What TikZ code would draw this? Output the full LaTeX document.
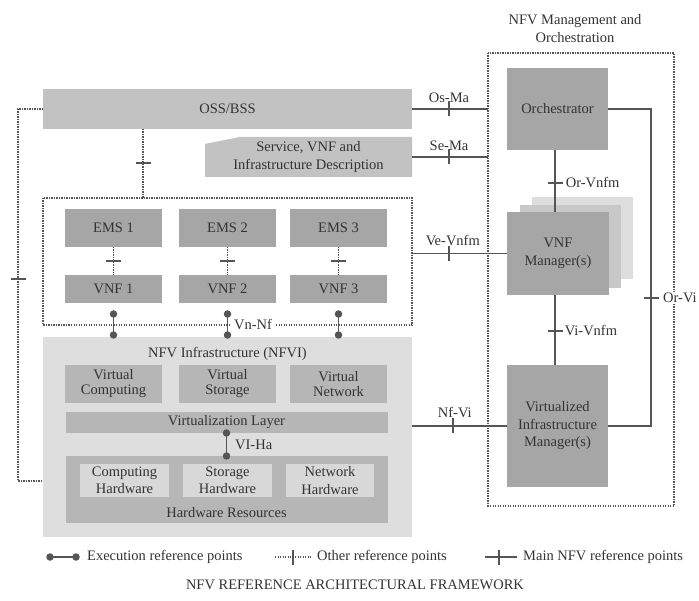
\documentclass[tikz,border=0pt]{standalone}
\usepackage{fontspec}
\setmainfont{Liberation Serif}
\usetikzlibrary{calc}
\definecolor{ln}{HTML}{555555}
\definecolor{txt}{HTML}{333333}
\definecolor{boxdark}{HTML}{A6A6A6}
\definecolor{boxmid}{HTML}{B6B6B6}
\definecolor{boxlight}{HTML}{C2C2C2}
\definecolor{infra}{HTML}{DEDEDE}
\definecolor{hwsub}{HTML}{D8D8D8}
\definecolor{sheetA}{HTML}{C8C8C8}
\definecolor{sheetB}{HTML}{DDDDDD}
\begin{document}
\begin{tikzpicture}[x=1pt,y=-1pt,
  font=\fontsize{14.5}{17.5}\selectfont,
  box/.style={inner sep=0pt, outer sep=0pt, align=center, text=txt},
  dbox/.style={box, fill=boxdark},
  vbox/.style={box, fill=boxmid, font=\fontsize{14.5}{15}\selectfont},
  lbl/.style={text=txt, inner sep=1pt},
  main/.style={draw=ln, line width=1.6pt},
  other/.style={draw=ln, line width=1.6pt, dash pattern=on 1.4pt off 1.1pt},
  dotn/.style={circle, fill=ln, inner sep=0pt, minimum size=7.5pt},
  tick/.pic={\draw[draw=ln, line width=1.6pt, solid] (0,-7.5) -- (0,7.5);}
]
\useasboundingbox (0,0) rectangle (699,601);
\fill[white] (0,0) rectangle (699,601);

% ---------- operations support and descriptors ----------
\node[box, fill=boxlight, minimum width=369pt, minimum height=40pt] (oss) at (227.5,109) {OSS/BSS};
\node[box, minimum width=207pt, minimum height=40pt] (desc) at (308.5,157) {};
\fill[boxlight] ([yshift=-7pt]desc.north west) -- ([xshift=35pt]desc.north west)
  -- (desc.north east) -- (desc.south east) -- (desc.south west) -- cycle;
\node[box] (desctxt) at (desc.center) {Service, VNF and\\Infrastructure Description};

% ---------- VNF domain ----------
\node[box, minimum width=369pt, minimum height=127pt] (vnfbox) at (227.5,261.5) {};
\foreach \i/\x in {1/113.5, 2/227.5, 3/338.5} {
  \node[dbox, minimum width=97pt, minimum height=38pt] (ems\i) at (\x,228) {EMS \i};
  \node[dbox, minimum width=97pt, minimum height=28pt] (vnf\i) at (\x,289) {VNF \i};
}

% ---------- NFV infrastructure ----------
\node[box, fill=infra, minimum width=369pt, minimum height=200pt] (nfvi) at (227.5,437) {};
\node[box, anchor=base] (nfvititle) at ($(nfvi.north)+(0,21)$) {NFV Infrastructure (NFVI)};
\node[vbox, minimum width=97pt, minimum height=38pt] (vcomp) at (113.5,384) {Virtual\\Computing};
\node[vbox, minimum width=97pt, minimum height=38pt] (vstor) at (227.5,384) {Virtual\\Storage};
\node[vbox, minimum width=97pt, minimum height=38pt] (vnet) at (338.5,384) {Virtual\\Network};
\node[vbox, minimum width=322pt, minimum height=21pt] (vlayer) at (226.5,422.5) {Virtualization Layer};
\node[box, fill=boxmid, minimum width=322pt, minimum height=67pt] (hwres) at (226.5,489.5) {};
\node[box, anchor=base] (hwtitle) at ($(hwres.south)+(0,-6)$) {Hardware Resources};
\node[box, fill=hwsub, minimum width=89pt, minimum height=33pt] (chw) at (124.5,480.5) {Computing\\Hardware};
\node[box, fill=hwsub, minimum width=89pt, minimum height=33pt] (shw) at (227.5,480.5) {Storage\\Hardware};
\node[box, fill=hwsub, minimum width=88pt, minimum height=33pt] (nhw) at (330,480.5) {Network\\Hardware};

% ---------- management and orchestration ----------
\node[box, minimum width=186pt, minimum height=453pt] (mano) at (581,279.5) {};
\node[box] (manotitle) at (575,28.5) {NFV Management and\\Orchestration};
\node[dbox, minimum width=101pt, minimum height=82pt] (orch) at (557.5,109) {Orchestrator};
\node[box, fill=sheetB, minimum width=101pt, minimum height=82pt] (sheet2) at (582.5,238) {};
\node[box, fill=sheetA, minimum width=101pt, minimum height=83pt] (sheet1) at (570.5,246.5) {};
\node[dbox, minimum width=102pt, minimum height=83pt] (vnfm) at (558,253.5) {VNF\\Manager(s)};
\node[dbox, minimum width=101pt, minimum height=121pt] (vim) at (557.5,426) {Virtualized\\Infrastructure\\Manager(s)};

% ---------- dotted frames ----------
\draw[other] (vnfbox.north west) rectangle (vnfbox.south east);
\draw[other] (mano.north west) rectangle (mano.south east);

% ---------- other reference points ----------
\draw[other] ([xshift=-84.5pt]oss.south) -- ([xshift=-84.5pt]oss.south |- vnfbox.north)
  pic[pos=.49, sloped]{tick};
\coordinate (lftTop) at (18,109);
\coordinate (lftBot) at (18,481);
\draw[other] (oss.west) -- (lftTop) -- (lftBot) pic[pos=.457, sloped]{tick} -- (lftBot -| nfvi.west);
\foreach \i in {1,2,3}
  \draw[other] (ems\i.south) -- (vnf\i.north) pic[pos=.5, sloped]{tick};

% ---------- execution reference points ----------
\foreach \i in {1,2,3}
  \draw[main] ([yshift=-11pt]vnf\i.south) node[dotn]{} -- ([yshift=2pt]vnf\i.south |- nfvi.north) node[dotn]{};
\node[lbl, fill=white, anchor=west, inner xsep=3pt] (vnnf) at (231,325) {Vn-Nf};
\draw[main] (vlayer.south) node[dotn]{} -- (vlayer.south |- hwres.north) node[dotn]{};
\node[lbl, anchor=west] (viha) at (234,445) {VI-Ha};

% ---------- main reference points ----------
\draw[main] (oss.east) -- (mano.west |- oss.east) pic[pos=.487, sloped]{tick}
  node[pos=.487, above=5pt, lbl] {Os-Ma};
\draw[main] (desc.east) -- (mano.west |- desc.east) pic[pos=.487, sloped]{tick}
  node[pos=.487, above=5pt, lbl] {Se-Ma};
\draw[main] (vnfm.west -| vnfbox.east) -- (vnfm.west) pic[pos=.39, sloped]{tick}
  node[pos=.43, above=6pt, lbl] {Ve-Vnfm};
\draw[main] (vim.west -| nfvi.east) -- (vim.west) pic[pos=.43, sloped]{tick}
  node[pos=.45, above=6pt, lbl] {Nf-Vi};
\draw[main] ([xshift=-2.5pt]orch.south) -- ([xshift=-3pt]vnfm.north) pic[pos=.53, sloped]{tick}
  node[pos=.53, right=9pt, lbl] {Or-Vnfm};
\draw[main] ([xshift=-3pt]vnfm.south) -- ([xshift=-2.5pt]vim.north) pic[pos=.51, sloped]{tick}
  node[pos=.51, right=8pt, lbl] {Vi-Vnfm};
\coordinate (orviTop) at (651,109);
\coordinate (orviBot) at (651,426);
\draw[main] (orch.east) -- (orviTop) -- (orviBot) pic[pos=.596, sloped]{tick}
  -- (vim.east);
\node[lbl, fill=white, anchor=west, inner xsep=2pt] (orvi) at (661,298) {Or-Vi};

% ---------- legend ----------
\node[lbl, anchor=west] (lgexec) at (86,557) {Execution reference points};
\draw[main] ([xshift=-36pt]lgexec.west) node[dotn]{} -- ([xshift=-10pt]lgexec.west) node[dotn]{};
\node[lbl, anchor=west] (lgother) at (316,557) {Other reference points};
\draw[other] ([xshift=-41pt]lgother.west) -- ([xshift=-5pt]lgother.west) pic[pos=.5, sloped]{tick};
\node[lbl, anchor=west] (lgmain) at (522,557) {Main NFV reference points};
\draw[main] ([xshift=-37pt]lgmain.west) -- ([xshift=-5pt]lgmain.west) pic[pos=.44, sloped]{tick};

\node[lbl] (caption) at (355,585) {NFV REFERENCE ARCHITECTURAL FRAMEWORK};
\end{tikzpicture}
\end{document}
